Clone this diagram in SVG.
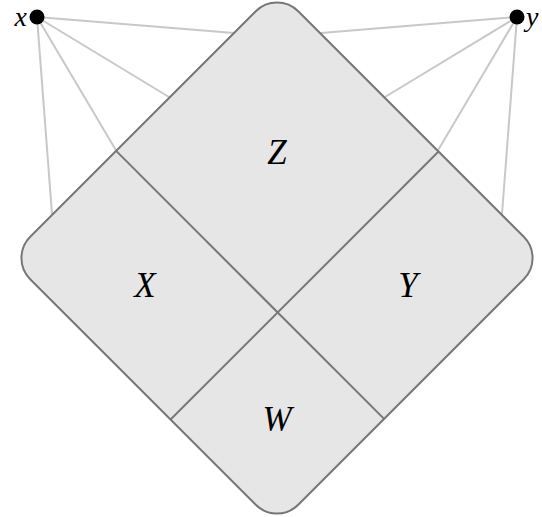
<svg xmlns="http://www.w3.org/2000/svg" width="542" height="517" viewBox="0 0 542 517">
<style>
.ray{stroke:#c8c8c8;stroke-width:2;fill:none}
.edge{stroke:#777;stroke-width:2;fill:none}
.lbl{font-family:"Liberation Serif","DejaVu Serif",serif;font-style:italic;font-size:35px;fill:#000;text-anchor:middle}
.pt{font-family:"Liberation Serif","DejaVu Serif",serif;font-style:italic;font-size:28px;fill:#000}
</style>
<rect width="542" height="517" fill="#fff"/>
<g id="connectors">
<line class="ray" x1="37" y1="17" x2="234" y2="33"/>
<line class="ray" x1="37" y1="17" x2="169" y2="97"/>
<line class="ray" x1="37" y1="17" x2="117" y2="152"/>
<line class="ray" x1="37" y1="17" x2="52" y2="214"/>
<line class="ray" x1="517" y1="17" x2="321" y2="33"/>
<line class="ray" x1="517" y1="17" x2="385" y2="97"/>
<line class="ray" x1="517" y1="17" x2="437" y2="152"/>
<line class="ray" x1="517" y1="17" x2="502" y2="214"/>
</g>
<g id="diamond" transform="translate(277,258) rotate(45)">
<rect x="-189.5" y="-189.5" width="379" height="379" rx="30" fill="#e6e6e6" stroke="#777" stroke-width="2"/>
<line class="edge" x1="-189.5" y1="38" x2="189.5" y2="38"/>
<line class="edge" x1="39" y1="-189.5" x2="39" y2="189.5"/>
</g>
<g id="Z"><text class="lbl" x="277" y="164">Z</text></g>
<g id="X"><text class="lbl" x="145" y="297">X</text></g>
<g id="Y"><text class="lbl" x="408" y="297">Y</text></g>
<g id="W"><text class="lbl" x="277" y="431">W</text></g>
<g id="x"><circle cx="37" cy="17" r="7.5" fill="#000"/><text class="pt" x="27" y="26" text-anchor="end">x</text></g>
<g id="y"><circle cx="517" cy="17" r="7.5" fill="#000"/><text class="pt" x="526" y="26">y</text></g>
</svg>
